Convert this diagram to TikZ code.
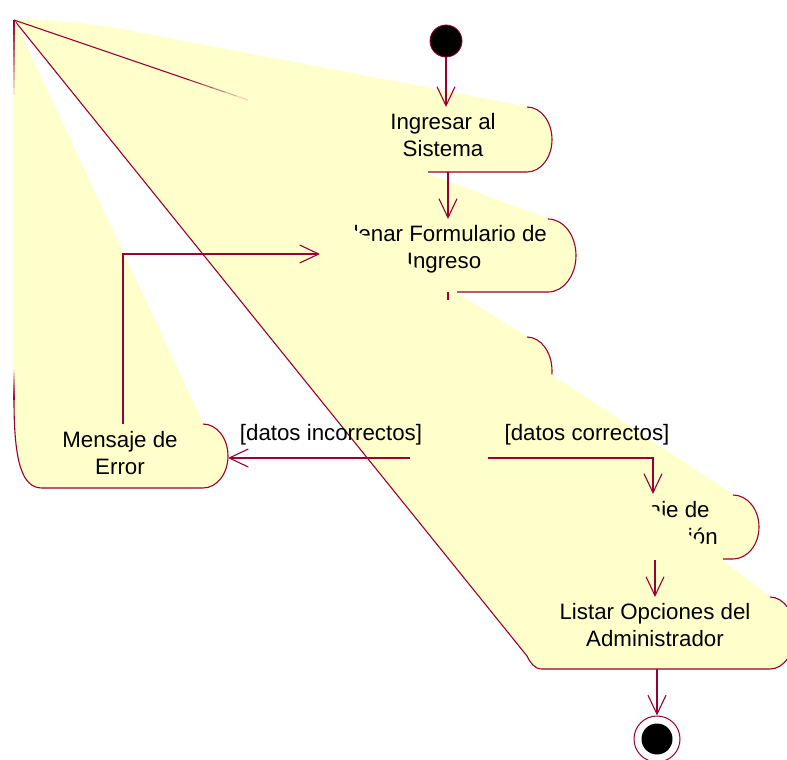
\documentclass[tikz,border=0pt]{standalone}
\usepackage{fontspec}
\setmainfont{Liberation Sans}
\usetikzlibrary{arrows.meta}
\usetikzlibrary{calc}

\definecolor{roseline}{RGB}{153,0,51}
\definecolor{rosefill}{RGB}{255,255,204}

\tikzset{
  shape fill/.style={fill=rosefill,draw=rosefill,line width=1pt,line join=round},
  activity/.style={align=center,inner sep=0pt,font=\fontsize{22.3}{27.5}\selectfont},
  guard/.style={inner sep=0pt,anchor=base,font=\fontsize{22.3}{27.5}\selectfont},
  wire/.style={draw=roseline,line width=1.1pt},
  flow/.style={wire,-{Straight Barb[length=19pt,width=18pt]}},
  startdot/.style={circle,draw=roseline,fill=black,minimum size=32pt,inner sep=0pt,line width=0.8pt},
  enddot/.style={circle,draw=roseline,fill=white,minimum size=46pt,inner sep=0pt,line width=1pt,
    path picture={\fill[black] (path picture bounding box.center) circle (15.5pt);}}
}

% contornos de las actividades
\newcommand\ingresarpath{(apex) .. controls (70,20) and (110,27) .. (150,35) -- (527,107)
  arc[start angle=-90,end angle=90,x radius=25,y radius=32.5] -- (428,172) -- (428,176) -- cycle}
\newcommand\llenarpath{(apex) -- (548,219)
  arc[start angle=-90,end angle=90,x radius=28,y radius=36.5] -- (457,292) -- (457,296) -- cycle}
\newcommand\validapath{(apex) -- (527,337)
  arc[start angle=-90,end angle=90,x radius=25,y radius=34] -- (440,405) -- cycle}
\newcommand\confirmapath{(apex) -- (733,495)
  arc[start angle=-90,end angle=90,x radius=26,y radius=32] -- (723,559) -- (723,563) -- cycle}
\newcommand\listarpath{(apex) -- (770,597)
  arc[start angle=-90,end angle=90,x radius=25,y radius=36] -- (542,669)
  .. controls (534,669) and (530,662) .. (527,656) -- cycle}
\newcommand\errorpath{(apex) -- (203,424)
  arc[start angle=-90,end angle=90,x radius=25,y radius=32] -- (42,488)
  .. controls (22,488) and (14,462) .. (14,400) -- cycle}

\begin{document}
\begin{tikzpicture}[x=1pt,y=-1pt,line width=1.1pt]
\useasboundingbox (0,0) rectangle (787,760);
\coordinate (apex) at (14,20);

% fondo comun
\fill[rosefill] \ingresarpath \llenarpath \validapath \confirmapath \listarpath \errorpath;

% Ingresar al Sistema
\path[shape fill] \ingresarpath;
\draw[roseline] (527,107) arc[start angle=-90,end angle=90,x radius=25,y radius=32.5] -- (428,172);
\node[activity] (ingresar) at (443,135) {Ingresar al\\Sistema};

% Llenar Formulario de Ingreso
\path[shape fill] \llenarpath;
\draw[roseline] (548,219) arc[start angle=-90,end angle=90,x radius=28,y radius=36.5] -- (457,292);
\node[activity] (llenar) at (444,249) {Llenar Formulario de\\Ingreso};

% validacion
\path[shape fill] \validapath;
\draw[roseline] (527,337) arc[start angle=-90,end angle=90,x radius=25,y radius=34];

% Mensaje de Confirmacion
\path[shape fill] \confirmapath;
\draw[roseline] (733,495) arc[start angle=-90,end angle=90,x radius=26,y radius=32] -- (723,559);
\node[activity] (confirma) at (652,523) {Mensaje de\\Confirmación};

% Listar Opciones del Administrador
\path[shape fill] \listarpath;
\draw[roseline] (770,597) arc[start angle=-90,end angle=90,x radius=25,y radius=36] -- (542,669)
  .. controls (534,669) and (530,662) .. (527,656) -- (apex);
\node[activity] (listar) at (655,625) {Listar Opciones del\\Administrador};

% Mensaje de Error
\path[shape fill] \errorpath;
\draw[roseline] (203,424) arc[start angle=-90,end angle=90,x radius=25,y radius=32] -- (42,488)
  .. controls (22,488) and (14,462) .. (14,400);
\node[activity] (error) at (120,453) {Mensaje de\\Error};

% bordes que se desvanecen
\foreach \k in {0,...,9}{
  \pgfmathsetmacro\op{1-\k/10}
  \draw[roseline,opacity=\op] (14,{20+7.5*\k}) -- (14,{27.5+7.5*\k});
  \pgfmathsetmacro\ip{(\k+1)/10}
  \draw[roseline,opacity=\ip] (14,{370+3*\k}) -- (14,{373+3*\k});
}
\draw[roseline] ($(apex)!0!(248,100)$) -- ($(apex)!0.7!(248,100)$);
\foreach \k in {0,...,5}{
  \pgfmathsetmacro\op{1-\k/6}
  \draw[roseline,opacity=\op] ($(apex)!{0.7+0.05*\k}!(248,100)$) -- ($(apex)!{0.75+0.05*\k}!(248,100)$);
}

% estados inicial y final
\node[startdot] (start) at (446,41) {};
\node[enddot] (end) at (657,739) {};

% puntos de llegada
\coordinate (ingresar-n) at (446,107);
\coordinate (ingresar-s) at (448,172);
\coordinate (llenar-n) at (448,219);
\coordinate (llenar-s) at (448,292);
\coordinate (llenar-w) at (320,254);
\coordinate (valida-tick) at (448,300);
\coordinate (error-n) at (123,424);
\coordinate (error-e) at (228,458);
\coordinate (rama-w) at (410,458);
\coordinate (rama-e) at (488,458);
\coordinate (confirma-n) at (653,494);
\coordinate (confirma-s) at (655,560);
\coordinate (listar-n) at (655,597);
\coordinate (listar-s) at (657,669);

\draw[flow] (start) -- (ingresar-n);
\draw[flow] (ingresar-s) -- (llenar-n);
\draw[wire] (llenar-s) -- (valida-tick);
\draw[flow] (error-n) |- (llenar-w);
\draw[flow] (rama-w) -- (error-e);
\draw[flow] (rama-e) -| (confirma-n);
\draw[flow] (confirma-s) -- (listar-n);
\draw[flow] (listar-s) -- (end);

\node[guard] (incorrectos) at (331,440) {[datos incorrectos]};
\node[guard] (correctos) at (587,440) {[datos correctos]};
\end{tikzpicture}
\end{document}
